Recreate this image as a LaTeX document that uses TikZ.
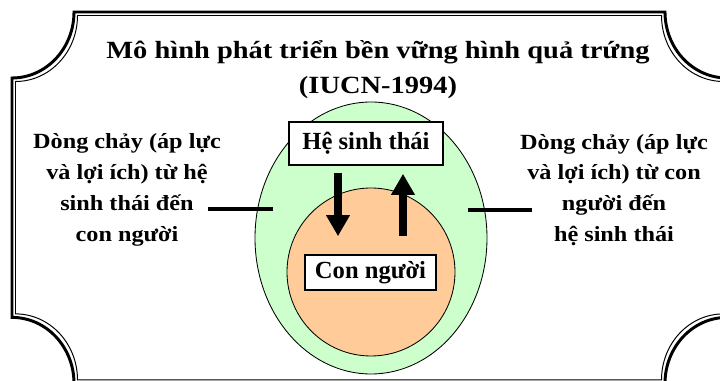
\documentclass[tikz,border=0pt]{standalone}
\usepackage{fontspec}
\setmainfont{Liberation Serif}
\newfontfamily\headfont[FakeStretch=1.15]{Liberation Serif}
\newfontfamily\sidefont[FakeStretch=1.12]{Liberation Serif}
\usetikzlibrary{arrows.meta,positioning,calc}
\definecolor{ink}{RGB}{0,0,0}
\definecolor{eggwhite}{RGB}{204,255,204}
\definecolor{eggyolk}{RGB}{255,204,153}
% plaque outline with hollow corners: left, bottom, right, top
\newcommand{\plaquepath}[4]{%
  (#1+1.55,#4) -- (#3-1.55,#4)
  arc[start angle=180,end angle=270,x radius=1.55,y radius=1.65]
  -- (#3,#2+1.65)
  arc[start angle=90,end angle=180,x radius=1.55,y radius=1.65]
  -- (#1+1.55,#2)
  arc[start angle=0,end angle=90,x radius=1.55,y radius=1.65]
  -- (#1,#4-1.65)
  arc[start angle=270,end angle=360,x radius=1.55,y radius=1.65]
  -- cycle}
\tikzset{
  title/.style={font=\headfont\bfseries\fontsize{17.6}{25}\selectfont,align=center,text=ink},
  sidenote/.style={font=\sidefont\bfseries\fontsize{15.4}{22}\selectfont,align=center,text=ink},
  box/.style={draw=ink,line width=1.1pt,fill=white,inner sep=0pt,font=\bfseries\fontsize{17.5}{20}\selectfont},
  link/.style={line width=2.2pt,draw=ink},
  flow/.style={-{Triangle[width=16pt,length=15pt]},line width=5pt,draw=ink},
  shell/.style={draw=ink,line width=0.6pt}
}

\begin{document}
\begin{tikzpicture}[x=1cm,y=1cm]
  \useasboundingbox (0,0) rectangle (18,9.525);

  % double frame
  \draw[line width=2.1pt] \plaquepath{0.3}{-0.06}{18.175}{9.225};
  \draw[line width=0.7pt] \plaquepath{0.3875}{0.0275}{18.0875}{9.1375};

  \node[title] (head) at (9.45,7.78) {Mô hình phát triển bền vững hình quả trứng\\(IUCN-1994)};

  % the egg
  \draw[shell,fill=eggwhite] (9.275,3.575) ellipse[x radius=2.9,y radius=3.4];
  \draw[shell,fill=eggyolk] (9.275,2.725) ellipse[x radius=2.1,y radius=2.1];

  \node[box,minimum width=3.85cm,minimum height=1.075cm] (eco) at (9.15,5.9375) {Hệ sinh thái};
  \node[box,minimum width=3.275cm,minimum height=0.875cm] (people) at (9.2625,2.7125) {Con người};

  \draw[flow] ([xshift=-0.7cm,yshift=-0.175cm]eco.south) -- ([xshift=-0.8125cm,yshift=0.45cm]people.north);
  \draw[flow] ([xshift=0.8125cm,yshift=0.45cm]people.north) -- ([xshift=0.925cm,yshift=-0.2cm]eco.south);

  \node[sidenote] (leftnote) at (3.175,4.775) {Dòng chảy (áp lực\\và lợi ích) từ hệ\\sinh thái đến\\con người};
  \node[sidenote] (rightnote) at (15.35,4.775) {Dòng chảy (áp lực\\và lợi ích) từ con\\người đến\\hệ sinh thái};

  \coordinate (lin) at (5.2,4.3);
  \coordinate (lout) at (6.825,4.3);
  \coordinate (rin) at (11.7,4.275);
  \coordinate (rout) at (13.3,4.275);
  \draw[link] (lin) -- (lout);
  \draw[link] (rin) -- (rout);
\end{tikzpicture}
\end{document}
